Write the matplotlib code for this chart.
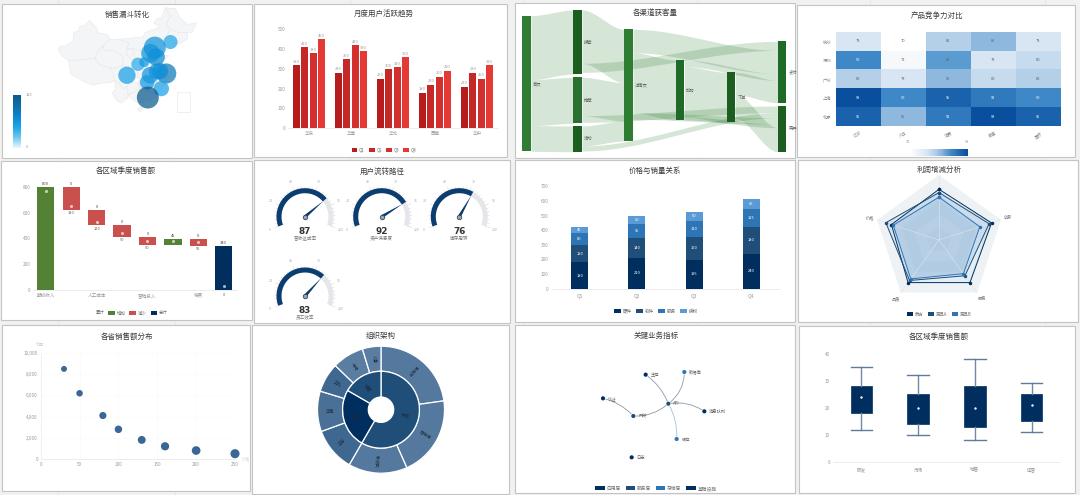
import numpy as np
import matplotlib
matplotlib.use('Agg')
import matplotlib.pyplot as plt
from matplotlib.colors import LinearSegmentedColormap, Normalize
from matplotlib.patches import Rectangle, Polygon, FancyArrowPatch
from matplotlib.lines import Line2D

plt.rcParams['font.family'] = ['Noto Sans CJK SC', 'DejaVu Sans']

W, H = 1080, 495

# ---------- data ----------
provinces = [
 [(73.5,39.4),(74.5,40.4),(76.5,40.5),(80,42),(80.3,45),(82.5,45.5),(83,47),(85.5,47.5),(87.5,49.1),(90.5,46.5),(91,45),(95.5,44.2),(96.4,42.7),(93.5,40.5),(90.5,38),(90,36.2),(85,36),(80.3,35.5),(78,35.5),(75,37.2)],
 [(78,35.5),(80.3,35.5),(85,36),(90,36.2),(92,34),(97,33),(99,33),(98.5,29),(97,28.3),(92,27.8),(89,27.3),(86,28),(81,30.2),(79,31),(78.7,33)],
 [(90,36.2),(90.5,38),(93.5,40.5),(94,38.9),(98,39),(100,38),(102.5,36.8),(102,35),(102,34),(100.7,33.5),(99,33),(97,33),(92,34)],
 [(93.5,40.5),(96.4,42.7),(100,42.7),(105,41.7),(104,39.5),(104,37.5),(106,36),(108,35.5),(106.5,34.3),(106,32.7),(105,32.7),(102,34),(102,35),(102.5,36.8),(100,38),(98,39),(94,38.9)],
 [(100,42.7),(105,41.7),(104,39.5),(106.5,39.5),(110.5,39),(111,40),(114,41),(116,42),(119.5,42),(122,44),(123,46),(121.5,48),(123.5,50.5),(125.5,53),(121,53.3),(119.5,50),(117,49.5),(116,48),(119,47),(116,46),(112,45),(111,43.5)],
 [(121,53.3),(125.5,53),(127.5,50),(131,47.7),(134.8,48.3),(133,45),(131,44.9),(127,45),(125,45.5),(123,46),(121.5,48),(123.5,50.5)],
 [(122,44),(123,46),(125,45.5),(127,45),(131,44.9),(131,43),(128,41.5),(126,41),(124.5,42.5)],
 [(119.5,42),(122,44),(124.5,42.5),(126,41),(124,40),(121.5,39),(122,40.5),(120,40)],
 [(114,41),(116,42),(119.5,42),(120,40),(118,39),(117.8,38),(115.5,36.2),(114,36.5)],
 [(111,40),(114,41),(114,36.5),(113,35.3),(110.5,35),(110.5,39)],
 [(110.5,39),(110.5,35),(110.5,33),(108,32),(106,32.7),(106.5,34.3),(108,35.5),(107,37.5),(106.5,39.5)],
 [(106.5,39.5),(107,37.5),(108,35.5),(106,36),(104,37.5),(104,39.5)],
 [(115.5,36.2),(117.8,38),(119,37.3),(122.5,37.2),(119.5,35),(116,34.7)],
 [(110.5,35),(113,35.3),(114,36.5),(115.5,36.2),(116,34.7),(115,32),(112,32.5),(110.5,33)],
 [(116,34.7),(119.5,35),(121.8,31.8),(119,31.2),(118.5,32.5)],
 [(116,34.7),(118.5,32.5),(119,31.2),(118,29.5),(116,30),(115,32)],
 [(119,31.2),(121.8,31),(122,29),(120.5,27.2),(118.5,28.3),(118,29.5)],
 [(118,29.5),(118.5,28.3),(120.5,27.2),(118,24.2),(116.5,24),(116,26),(117,28)],
 [(116,30),(118,29.5),(117,28),(116,26),(116.5,24),(115.5,24.5),(114,25),(114,29.5)],
 [(110.5,33),(112,32.5),(115,32),(116,30),(114,29.5),(110,29.5),(108.5,29.8),(109,31.5)],
 [(110,29.5),(114,29.5),(114,25),(112,25),(109.5,26),(109,28)],
 [(112,25),(114,25),(115.5,24.5),(116.5,24),(117,23.5),(114,22.3),(110.5,21.3),(110,21.5),(111.5,24)],
 [(104.5,24),(106,24.5),(109.5,26),(112,25),(111.5,24),(110,21.5),(108,21.6),(106.5,22.5)],
 [(109,19.5),(110.5,20),(111,19.5),(110,18.3),(108.7,18.7)],
 [(104,27),(106,28.5),(109,28),(109.5,26),(106,24.5),(104.5,24)],
 [(98.5,29),(99,26),(97.5,24.5),(99.5,22),(101.5,21.2),(104.5,23),(104.5,24),(104,27),(102.5,26),(100.5,28)],
 [(97,33),(99,33),(100.7,33.5),(102,34),(105,32.7),(106,32.7),(108,32),(109,31.5),(108.5,29.8),(106,28.5),(104,27),(102.5,26),(100.5,28),(98.5,29)],
]
city_lon = [123.4, 116.4, 117.0, 114.5, 108.9, 111.7, 104.0, 121.5, 118.8, 114.3, 113.0, 119.3, 113.3, 117.3]
city_lat = [41.8, 39.9, 36.7, 38.0, 34.3, 35.0, 30.6, 31.2, 32.0, 30.6, 28.2, 26.1, 23.1, 31.9]
city_val = [45, 60, 68, 62, 42, 55, 50, 85, 66, 60, 55, 48, 120, 62]
city_rad = [21, 33, 26, 28, 20, 15, 26, 30, 24, 25, 22, 23, 33, 24]

regions = ['华东', '华南', '华北', '西南', '华中']
quarters = ['Q1', 'Q2', 'Q3', 'Q4']
region_q1 = [320, 280, 250, 180, 210]
region_q2 = [410, 350, 300, 220, 280]
region_q3 = [380, 420, 310, 260, 250]
region_q4 = [450, 390, 360, 290, 320]

sankey_nodes = ['首页', '搜索', '推荐', '活动', '详情页', '加购', '下单', '支付', '离开']
sankey_flows = [('首页','搜索',192),('首页','推荐',138),('首页','活动',77),
                ('搜索','详情页',160),('搜索','支付',27),
                ('推荐','详情页',115),('推荐','离开',20),
                ('活动','详情页',60),('活动','离开',15),
                ('详情页','支付',70),('详情页','加购',180),('详情页','离开',20),
                ('加购','支付',20),('加购','下单',150),('加购','离开',10),
                ('下单','支付',67),('下单','离开',72)]

heat_rows = ['杭州', '深圳', '广州', '上海', '北京']
heat_cols = ['GDP', '人口', '消费', '教育', '医疗']
heat_vals = [[78, 70, 82, 85, 78],
             [90, 72, 88, 78, 80],
             [82, 78, 85, 80, 82],
             [98, 90, 95, 92, 90],
             [95, 85, 92, 98, 95]]

wf_cats = ['期初收入', '', '人工成本', '', '营销投入', '', '税费', '']
wf_inc = [800, 0, 0, 0, 0, 45, 0, 0]
wf_dec = [0, 180, 120, 90, 60, 0, 55, 0]
wf_tot = [0, 0, 0, 0, 0, 0, 0, 340]

gauge_names = ['营收达成率', '资产满意度', '库存周转', '员工效率']
gauge_vals = [87, 92, 76, 83]
gauge_ticks = [0, 24, 48, 72, 96, 120]

stack_q = ['Q1', 'Q2', 'Q3', 'Q4']
stack_names = ['硬件', '软件', '服务', '授权']
stack_hw = [180, 210, 195, 240]
stack_sw = [120, 140, 160, 180]
stack_sv = [80, 95, 110, 125]
stack_li = [45, 50, 60, 65]

radar_axes = ['', '创新', '服务', '品质', '价格']
radar_names = ['我方', '竞品A', '竞品B']
radar_us = [78, 85, 81, 81, 77]
radar_a = [73, 81, 68, 77, 86]
radar_b = [66, 66, 64, 74, 74]

price = [30, 50, 80, 100, 130, 160, 200, 250]
sales = [8500, 6200, 4100, 2800, 1800, 1200, 800, 500]

org_inner_names = ['研发', '销售', '运营']
org_inner = [210, 90, 60]
org_outer_names = ['前端组', '后端组', '测试组', '华东', '华南', '华北', '市场', '人事']
org_outer = [82, 74, 54, 40, 37, 27, 29, 17]

net_names = ['API', '网关', '认证', '主存', '数据库', '消息队列', '缓存', '日志']
net_group = [1, 1, 0, 0, 2, 0, 2, 3]
net_edges = [('API','网关',-0.2), ('网关','认证',0.15), ('API','主存',0.15), ('API','数据库',0.25),
             ('API','消息队列',-0.2), ('API','缓存',-0.15)]
net_layers = ['应用层', '服务层', '存储层', '基础设施']

box_cats = ['研发', '市场', '销售', '运营']
box_low = [12, 10, 8, 11]
box_q1 = [18, 14, 13, 15]
box_med = [24, 20, 20, 21]
box_q3 = [28, 25, 28, 25]
box_high = [35, 32, 38, 29]

# ---------- layout helpers ----------
fig = plt.figure(figsize=(W / 100, H / 100), dpi=100, facecolor='#f1f1f1')
cv = fig.add_axes([0, 0, 1, 1])
cv.set_xlim(0, W); cv.set_ylim(H, 0); cv.axis('off')

TXT = '#3a3a3a'
TICK = '#9a9a9a'
TS = 3.3

def axpx(x0, y0, x1, y1, **kw):
    return fig.add_axes([x0 / W, 1 - y1 / H, (x1 - x0) / W, (y1 - y0) / H], facecolor='none', **kw)

def clean(ax, ylab=True):
    for s in ax.spines.values():
        s.set_visible(False)
    ax.spines['bottom'].set_visible(True)
    ax.spines['bottom'].set_color('#e4e4e4')
    ax.spines['bottom'].set_linewidth(0.5)
    ax.tick_params(length=0, labelsize=TS, labelcolor=TICK, pad=2)

def legend(x, y, labels, colors, fs=3.3, hl=1.3, hh=0.8, cs=1.0):
    hs = [Rectangle((0, 0), 1, 1, fc=c, ec='none') for c in colors]
    fig.legend(hs, labels, loc='center', bbox_to_anchor=(x / W, 1 - y / H), ncol=len(labels), frameon=False,
               fontsize=fs, labelcolor='#707070', handlelength=hl, handleheight=hh, columnspacing=cs,
               handletextpad=0.4, borderpad=0)

panels = [(2,4,252,158,'销售漏斗转化',127,15),(254,4,507,157,'月度用户活跃趋势',384,14),
          (515,3,795,158,'各渠道获客量',655,13),(797,5,1075,157,'产品竞争力对比',937,16),
          (1,161,252,320,'各区域季度销售额',126,171),(254,160,510,323,'用户流转路径',382,172),
          (515,160,795,322,'价格与销量关系',655,171),(798,160,1078,322,'利润增减分析',939,170),
          (2,325,250,491,'各省销售额分布',127,337),(252,325,509,494,'组织架构',381,336),
          (515,325,795,493,'关键业务指标',656,336),(799,326,1075,493,'各区域季度销售额',939,337)]
for x in [58, 175, 350, 523, 697, 870, 1045]:
    cv.plot([x, x], [0, H], color='#e2e2e2', lw=0.5, zorder=0)
for x0, y0, x1, y1, t, tx, ty in panels:
    cv.add_patch(Rectangle((x0, y0), x1 - x0, y1 - y0, fc='white', ec='#c4c4c4', lw=0.8, zorder=1))
    cv.text(tx, ty, t, ha='center', va='center', fontsize=5.4, color=TXT, fontweight='medium', zorder=5)

# ---------- 1 map ----------
m = axpx(58.3, 7.3, 58.3 + 2.25 * 61.5, 7.3 + 2.967 * 35.3)
m.set_xlim(73.5, 135); m.set_ylim(18.2, 53.5); m.axis('off')
for p in provinces:
    m.add_patch(Polygon(p, closed=True, fc='#f4f5f6', ec='#e7e8ea', lw=0.4))
bubble_cmap = LinearSegmentedColormap.from_list('bub', ['#e6f5fd', '#6cc7f2', '#1aa3e8', '#0b86cf', '#0f6ea6', '#0b5a8e'])
rad_pt = np.array(city_rad) / 3 * 0.72
m.scatter(city_lon, city_lat, s=(2 * rad_pt) ** 2, c=city_val, cmap=bubble_cmap, vmin=0, vmax=120,
          alpha=0.72, linewidths=0, zorder=3, clip_on=False)
cv.add_patch(Rectangle((176.7, 92), 13.3, 19.5, fc='none', ec='#e3e3e3', lw=0.4, zorder=2))
cb = axpx(12.7, 95, 20.7, 148)
cb.imshow(np.linspace(1, 0, 100)[:, None], cmap=bubble_cmap, aspect='auto')
cb.axis('off')
cv.text(29, 95, '120', fontsize=2.8, color=TICK, ha='center', va='center', zorder=5)
cv.text(27, 147, '0', fontsize=2.8, color=TICK, ha='center', va='center', zorder=5)

# ---------- 2 grouped bars ----------
a = axpx(288, 29.3, 498, 128.3)
clean(a)
xs = np.arange(len(regions))
cols = ['#b71c1c', '#c62828', '#d32f2f', '#e53935']
bw = 0.172
for i, (q, v) in enumerate(zip(quarters, [region_q1, region_q2, region_q3, region_q4])):
    off = xs + (i - 1.5) * 0.2
    a.bar(off, v, width=bw, color=cols[i])
    for xx, vv in zip(off, v):
        a.text(xx, vv + 7, str(vv), ha='center', va='bottom', fontsize=2.9, color=TICK)
a.set_xlim(-0.5, 4.5); a.set_ylim(0, 500)
a.set_xticks(xs, regions); a.set_yticks(range(0, 501, 100))
legend(384, 150, quarters, cols, fs=3.2, hl=1.3, hh=0.8, cs=0.9)

# ---------- 3 sankey ----------
sk_col = dict(zip(sankey_nodes, [0, 1, 1, 1, 2, 3, 4, 5, 5]))
sk_top = dict(zip(sankey_nodes, [47, 30, 232, 378, 88, 180, 217, 124, 318]))
sk_colr = dict(zip(sankey_nodes, ['#2e7d32', '#1b5e20', '#2a7030', '#1b5e20', '#2e7d32', '#1f6a26', '#1b5e20', '#1f6a26', '#1b5e20']))
colx = [22, 175, 328, 482, 635, 788]
nw = 26
def zx(v): return 515 + v / 3
def zy(v): return v / 3
in_sum = {n: 0 for n in sankey_nodes}; out_sum = {n: 0 for n in sankey_nodes}
for s, t, v in sankey_flows:
    out_sum[s] += v; in_sum[t] += v
sk_h = {n: max(in_sum[n], out_sum[n]) for n in sankey_nodes}
out_y = {n: sk_top[n] + 0.0 for n in sankey_nodes}
in_y = {n: sk_top[n] + 0.0 for n in sankey_nodes}
sorted_flows = sorted(sankey_flows, key=lambda f: (sk_col[f[0]], sk_top[f[0]], sk_top[f[1]]))
for s, t, v in sorted_flows:
    y0 = out_y[s]; out_y[s] += v
    y1 = in_y[t]; in_y[t] += v
    tt = np.linspace(0, 1, 60)
    e = 3 * tt ** 2 - 2 * tt ** 3
    xa = colx[sk_col[s]] + nw; xb = colx[sk_col[t]]
    px = zx(xa + (xb - xa) * tt)
    cv.fill_between(px, zy(y0 + (y1 - y0) * e), zy(y0 + v + (y1 - y0) * e), color='#2e7d32', alpha=0.2, lw=0, zorder=2)
for n in sankey_nodes:
    cv.add_patch(Rectangle((zx(colx[sk_col[n]]), zy(sk_top[n])), nw / 3, sk_h[n] / 3, fc=sk_colr[n], ec='none', zorder=3))
    cv.text(min(zx(colx[sk_col[n]] + nw + 6), 790), zy(sk_top[n] + sk_h[n] / 2), n, fontsize=3.1, color='#666666', va='center', zorder=4)

# ---------- 4 heatmap ----------
h = axpx(835.7, 31.7, 1060.7, 126)
heat_cmap = LinearSegmentedColormap.from_list('heat', [(0, '#ffffff'), (0.286, '#d8e6f4'), (0.43, '#b3cfe8'),
                                                       (0.536, '#8fb8de'), (0.643, '#5a9bd0'), (0.714, '#3f88c8'),
                                                       (0.893, '#1a63ac'), (1, '#0a4f9e')])
hv = np.array(heat_vals)
h.pcolormesh(hv, cmap=heat_cmap, vmin=70, vmax=98, edgecolors='none')
h.invert_yaxis()
for s in h.spines.values():
    s.set_visible(False)
for r in range(5):
    for c in range(5):
        h.text(c + 0.5, r + 0.5, str(hv[r, c]), ha='center', va='center', fontsize=2.9,
               color='white' if hv[r, c] >= 90 else '#666666')
h.set_xticks(np.arange(5) + 0.5, heat_cols, rotation=30)
h.set_yticks(np.arange(5) + 0.5, heat_rows)
h.tick_params(length=0, labelsize=3.1, labelcolor='#888888', pad=3)
hb = axpx(910, 149, 968, 155.7)
hb.imshow(np.linspace(0, 1, 120)[None, :], cmap=heat_cmap, aspect='auto')
hb.axis('off')
cv.add_patch(Rectangle((966.5, 148.5), 1.8, 7.5, fc='#0b4f94', ec='none', zorder=3))
cv.text(907.7, 142, '70', fontsize=2.8, color=TICK, ha='center', va='center', zorder=5)
cv.text(967, 142, '98', fontsize=2.8, color=TICK, ha='center', va='center', zorder=5)

# ---------- 5 waterfall ----------
w = axpx(33, 186.7, 236.5, 290)
clean(w)
pos = np.arange(8)
run = 0; base = []
for i, d, t in zip(wf_inc, wf_dec, wf_tot):
    if t:
        base.append(0); run = t
    elif i:
        base.append(run); run += i
    else:
        run -= d; base.append(run)
base = np.array(base)
w.bar(pos, wf_inc, bottom=base, width=0.68, color='#548235')
w.bar(pos, wf_dec, bottom=base, width=0.68, color='#c9504d')
w.bar(pos, wf_tot, bottom=base, width=0.68, color='#002f5f')
tops = base + np.array(wf_inc) + np.array(wf_tot) + np.array(wf_dec)
for x_, t_, i_, tt_ in zip(pos, tops, wf_inc, wf_tot):
    w.text(x_, t_ + 8, str(i_ + tt_), fontsize=2.9, ha='center', va='bottom', color='#444444', fontweight='medium')
for x_, b_, d_, tt_ in zip(pos, base, wf_dec, wf_tot):
    if d_ or tt_:
        w.text(x_, b_ - 10 if d_ else -22, str(d_), fontsize=2.9, ha='center', va='top', color='#666666', clip_on=False)
dots = base + 30
dots[0] = tops[0] - 30
w.scatter(pos, dots, s=5, color='white', alpha=0.65, linewidths=0, zorder=3)
w.set_xlim(-0.5, 7.5); w.set_ylim(0, 800)
w.set_xticks(pos, wf_cats); w.set_yticks(range(0, 801, 200))
legend(138, 313, ['增加', '减少', '总计'], ['#548235', '#c9504d', '#002f5f'], fs=3.2, hl=1.5, hh=0.8, cs=0.9)
cv.text(100, 313, '累计', fontsize=3.2, color='#707070', ha='center', va='center', zorder=5)

# ---------- 6 gauges ----------
gx = [305, 381.7, 459.3, 305]
gy = [216.7, 216.7, 216.7, 296]
A0, A1 = np.deg2rad(200), np.deg2rad(-20)
R = 29
MAXV = gauge_ticks[-1]
for cx, cy, nm, val in zip(gx, gy, gauge_names, gauge_vals):
    ext = 46
    g = axpx(cx - ext, cy - ext, cx + ext, cy + ext, projection='polar')
    g.set_ylim(0, ext); g.axis('off')
    for k in range(31):
        t_ = A0 + (A1 - A0) * k / 30
        major = k % 6 == 0
        g.plot([t_, t_], [R - 2, R + (3.0 if major else 1.2)], color='#c8cacf', lw=0.3)
    th = np.linspace(A0, A1, 80)
    g.plot(th, np.full(80, R - 3), color='#e4e6ea', lw=3.6, solid_capstyle='butt')
    thv = np.linspace(A0, A0 + (A1 - A0) * val / MAXV, 80)
    g.plot(thv, np.full(80, R - 3), color='#0b3d70', lw=3.6, solid_capstyle='butt')
    for k, lab in enumerate(gauge_ticks):
        t_ = A0 + (A1 - A0) * k / 5
        g.text(t_, R + 8.5, str(lab), fontsize=2.5, color='#b0b0b0', ha='center', va='center')
    tv = A0 + (A1 - A0) * val / MAXV
    g.fill([tv, tv + np.pi / 2, tv - np.pi / 2], [R * 0.85, 1.6, 1.6], color='#0b3d70', lw=0)
    g.scatter([0], [0], s=11, fc='#8fa4ba', ec='#333333', lw=0.5, zorder=4)
    cv.text(cx, cy + 14.3, str(val), fontsize=6.4, fontweight='bold', color='#333333', ha='center', va='center', zorder=5, family=['DejaVu Sans'])
    cv.text(cx, cy + 22, nm, fontsize=3.3, color='#777777', ha='center', va='center', zorder=5)

# ---------- 7 stacked ----------
st = axpx(551, 186.3, 780, 288.7)
clean(st)
scol = ['#002f5f', '#1f4e79', '#2e75b6', '#5b9bd5']
bot = np.zeros(4)
sx = np.arange(4)
for vals, c in zip([stack_hw, stack_sw, stack_sv, stack_li], scol):
    st.bar(sx, vals, bottom=bot, width=0.3, color=c)
    for xx, b_, v_ in zip(sx, bot, vals):
        st.text(xx, b_ + v_ / 2, str(v_), ha='center', va='center', fontsize=2.9, color='white')
    bot += np.array(vals)
st.set_xlim(-0.5, 3.5); st.set_ylim(0, 700)
st.set_xticks(sx, stack_q); st.set_yticks(range(0, 701, 100))
st.tick_params(axis='x', labelsize=3.6, pad=3)
legend(656, 311, stack_names, scol, fs=3.3, hl=1.4, hh=0.8, cs=1.0)

# ---------- 8 radar ----------
RR = 65
rd = axpx(939 - RR, 240 - RR, 939 + RR, 240 + RR, projection='polar')
rd.set_theta_zero_location('N'); rd.set_theta_direction(-1)
rd.set_ylim(0, 100); rd.axis('off')
ang = np.linspace(0, 2 * np.pi, 6)
for lvl, c in zip([100, 80, 60, 40, 20], ['#eef2f5', '#ffffff', '#f6f8fa', '#ffffff', '#f6f8fa']):
    rd.fill(ang, np.full(6, lvl), color=c, lw=0)
for t_ in ang[:-1]:
    rd.plot([t_, t_], [0, 100], color='#e0e4e8', lw=0.4)
rcol = ['#002f5f', '#1f4e79', '#2e75b6']
for vals, c in zip([radar_us, radar_a, radar_b], rcol):
    vv = vals + vals[:1]
    rd.fill(ang, vv, color='#2e75b6', alpha=0.13, lw=0)
    rd.plot(ang, vv, color=c, lw=0.7, marker='o', ms=1.5)
for t_, lab in zip(ang[:-1], radar_axes):
    rd.text(t_, 112, lab, fontsize=3.1, color='#777777', ha='center', va='center')
legend(939, 314, radar_names, rcol, fs=3.2, hl=1.4, hh=0.8, cs=1.0)

# ---------- 9 scatter ----------
sc = axpx(40.7, 353, 235, 459)
clean(sc)
sc.spines['left'].set_visible(True); sc.spines['left'].set_color('#eeeeee'); sc.spines['left'].set_linewidth(0.5)
sc.grid(True, color='#f8f8f8', lw=0.4); sc.set_axisbelow(True)
sc.scatter(price, sales, s=np.array(price) ** 0.5 * 2.4 + 5, color='#2f5f8f', alpha=0.95, linewidths=0, zorder=3, clip_on=False)
sc.set_xlim(0, 250); sc.set_ylim(0, 10000)
sc.set_xticks(range(0, 251, 50)); sc.set_yticks(range(0, 10001, 2000), [f'{v:,}' for v in range(0, 10001, 2000)])
cv.text(40, 345, '销量', fontsize=3, color='#d8d8d8', ha='center', va='center', zorder=5)
cv.text(246, 459, '价格', fontsize=3, color='#d8d8d8', ha='center', va='center', zorder=5)

# ---------- 10 sunburst ----------
OR = 63.5
sb = axpx(381 - OR, 409.7 - OR, 381 + OR, 409.7 + OR)
outer_c = ['#55799e', '#55799e', '#55799e', '#3f6890', '#4a7098', '#3f6890', '#5a7ea2', '#5a7ea2']
sb.pie(org_outer, radius=1, startangle=90, counterclock=False, colors=outer_c,
       wedgeprops=dict(width=0.395, edgecolor='white', linewidth=0.9))
sb.pie(org_inner, radius=0.605, startangle=90, counterclock=False, colors=['#1f4e79', '#002f5f', '#1f4e79'],
       wedgeprops=dict(width=0.405, edgecolor='white', linewidth=0.9))
sb.set_xlim(-1, 1); sb.set_ylim(-1, 1)
def ring_labels(names, vals, r):
    acc = 0
    tot = sum(vals)
    for n, v in zip(names, vals):
        mid = 90 - (acc + v / 2) / tot * 360
        acc += v
        x_, y_ = r * np.cos(np.deg2rad(mid)), r * np.sin(np.deg2rad(mid))
        rot = mid if -90 <= mid <= 90 else mid + 180
        sb.text(x_, y_, n, fontsize=3.1, color='#1e2b3a', rotation=rot, rotation_mode='anchor', ha='center', va='center')
ring_labels(org_inner_names, org_inner, 0.40)
ring_labels(org_outer_names, org_outer, 0.80)

# ---------- 11 network ----------
net_x = dict(zip(net_names, [460, 355, 264, 392, 508, 568, 485, 350]))
net_y = dict(zip(net_names, [245, 282, 229, 158, 150, 268, 351, 406]))
net_c = ['#002f5f', '#1f4e79', '#2e75b6', '#002f5f']
def nx_(n): return 515 + net_x[n] / 3
def ny_(n): return 322 + net_y[n] / 3
for s, t, rad in net_edges:
    col = '#9fc3e0' if t == '缓存' else '#8d9aa8'
    cv.add_patch(FancyArrowPatch((nx_(s), ny_(s)), (nx_(t), ny_(t)), connectionstyle=f'arc3,rad={rad}',
                                 arrowstyle='-', color=col, lw=0.6, zorder=3))
node_colors = {0: '#002f5f', 1: '#1f4e79', 2: '#2e75b6', 3: '#002f5f'}
cv.scatter([nx_(n) for n in net_names], [ny_(n) for n in net_names], s=9,
           c=[node_colors[g_] for g_ in net_group], zorder=4, linewidths=0)
for n in net_names:
    cv.text(nx_(n) + 5, ny_(n), n, fontsize=3.1, color='#666666', va='center', zorder=5)
legend(656, 488.5, net_layers, net_c, fs=3.4, hl=2.0, hh=0.9, cs=1.0)

# ---------- 12 box ----------
bx = axpx(833, 353.7, 1060, 462)
clean(bx)
stats = [dict(whislo=l, q1=a_, med=m_, q3=b_, whishi=h_, label=c, fliers=[])
         for l, a_, m_, b_, h_, c in zip(box_low, box_q1, box_med, box_q3, box_high, box_cats)]
bx.bxp(stats, positions=range(4), widths=0.376, capwidths=0.376, patch_artist=True, showfliers=False,
       boxprops=dict(facecolor='#002f5f', edgecolor='#002f5f', linewidth=0.5),
       whiskerprops=dict(color='#6f8aa6', linewidth=1.0),
       capprops=dict(color='#5f7c9a', linewidth=1.0),
       medianprops=dict(linewidth=0, color='#002f5f'))
bx.scatter(range(4), box_med, s=3, color='white', zorder=5, linewidths=0)
bx.set_xlim(-0.5, 3.5); bx.set_ylim(0, 40)
bx.set_xticks(range(4), box_cats); bx.set_yticks(range(0, 41, 10))
bx.tick_params(axis='x', pad=4)

fig.savefig('out.png', dpi=100, facecolor=fig.get_facecolor())
